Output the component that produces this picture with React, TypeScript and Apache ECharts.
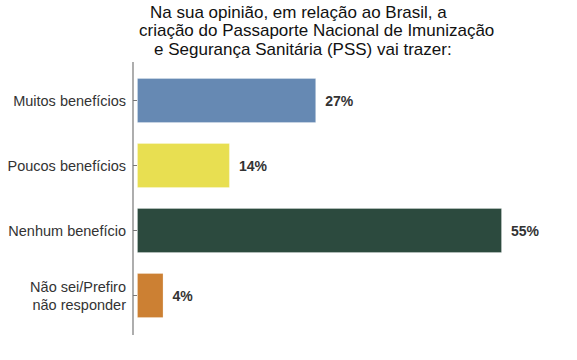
import React, { useEffect, useRef } from "react";
import * as echarts from "echarts";

const categories = ["Muitos benefícios", "Poucos benefícios", "Nenhum benefício", "Não sei/Prefiro\nnão responder"];
const values = [27, 14, 55, 4];
const colors = ["#6689B3", "#E8DF51", "#2C4A3E", "#CC8033"];
const titleLines = [
  "Na sua opinião, em relação ao Brasil, a",
  "criação do Passaporte Nacional de Imunização",
  "e Segurança Sanitária (PSS) vai trazer:",
];

export default function App() {
  const ref = useRef<HTMLDivElement>(null);
  useEffect(() => {
    if (!ref.current) return;
    const chart = echarts.init(ref.current, null, { renderer: "svg" });
    const font = "'Liberation Sans', Arial, sans-serif";
    const titleX = [150, 139, 154];
    const titleY = [3, 21.5, 40];
    chart.setOption({
      animation: false,
      backgroundColor: "#ffffff",
      textStyle: { fontFamily: font },
      grid: { left: 133, top: 68, width: 402.2, height: 260, containLabel: false },
      xAxis: {
        type: "value",
        min: -0.6,
        max: 60,
        show: false,
      },
      yAxis: {
        type: "category",
        inverse: true,
        data: categories,
        axisLine: { show: false },
        axisTick: { show: true, length: 4, alignWithLabel: true, lineStyle: { color: "#777", width: 1 } },
        axisLabel: { color: "#333", fontSize: 14.5, fontFamily: font, margin: 7, lineHeight: 18 },
        splitLine: { show: false },
      },
      series: [
        {
          type: "bar",
          data: values.map((v, i) => ({ value: v, itemStyle: { color: colors[i] } })),
          barCategoryGap: "30.8%",
          itemStyle: { borderColor: "rgba(255,255,255,0.25)", borderWidth: 1 },
          label: {
            show: true,
            position: "right",
            distance: 9,
            formatter: (p: any) => p.value + "%",
            color: "#333",
            fontWeight: "bold",
            fontSize: 14,
            fontFamily: font,
          },
        },
      ],
      graphic: [
        {
          type: "line",
          shape: { x1: 133, y1: 62, x2: 133, y2: 335 },
          style: { stroke: "#777", lineWidth: 1.2 },
        },
        ...titleLines.map((t, i) => ({
          type: "text",
          left: titleX[i],
          top: titleY[i],
          style: { text: t, fill: "#111", fontSize: 17, lineHeight: 18, fontFamily: font },
        })),
      ],
    });
    return () => chart.dispose();
  }, []);
  return <div ref={ref} style={{ width: 577, height: 360, position: "absolute", left: 0, top: 0 }} />;
}
